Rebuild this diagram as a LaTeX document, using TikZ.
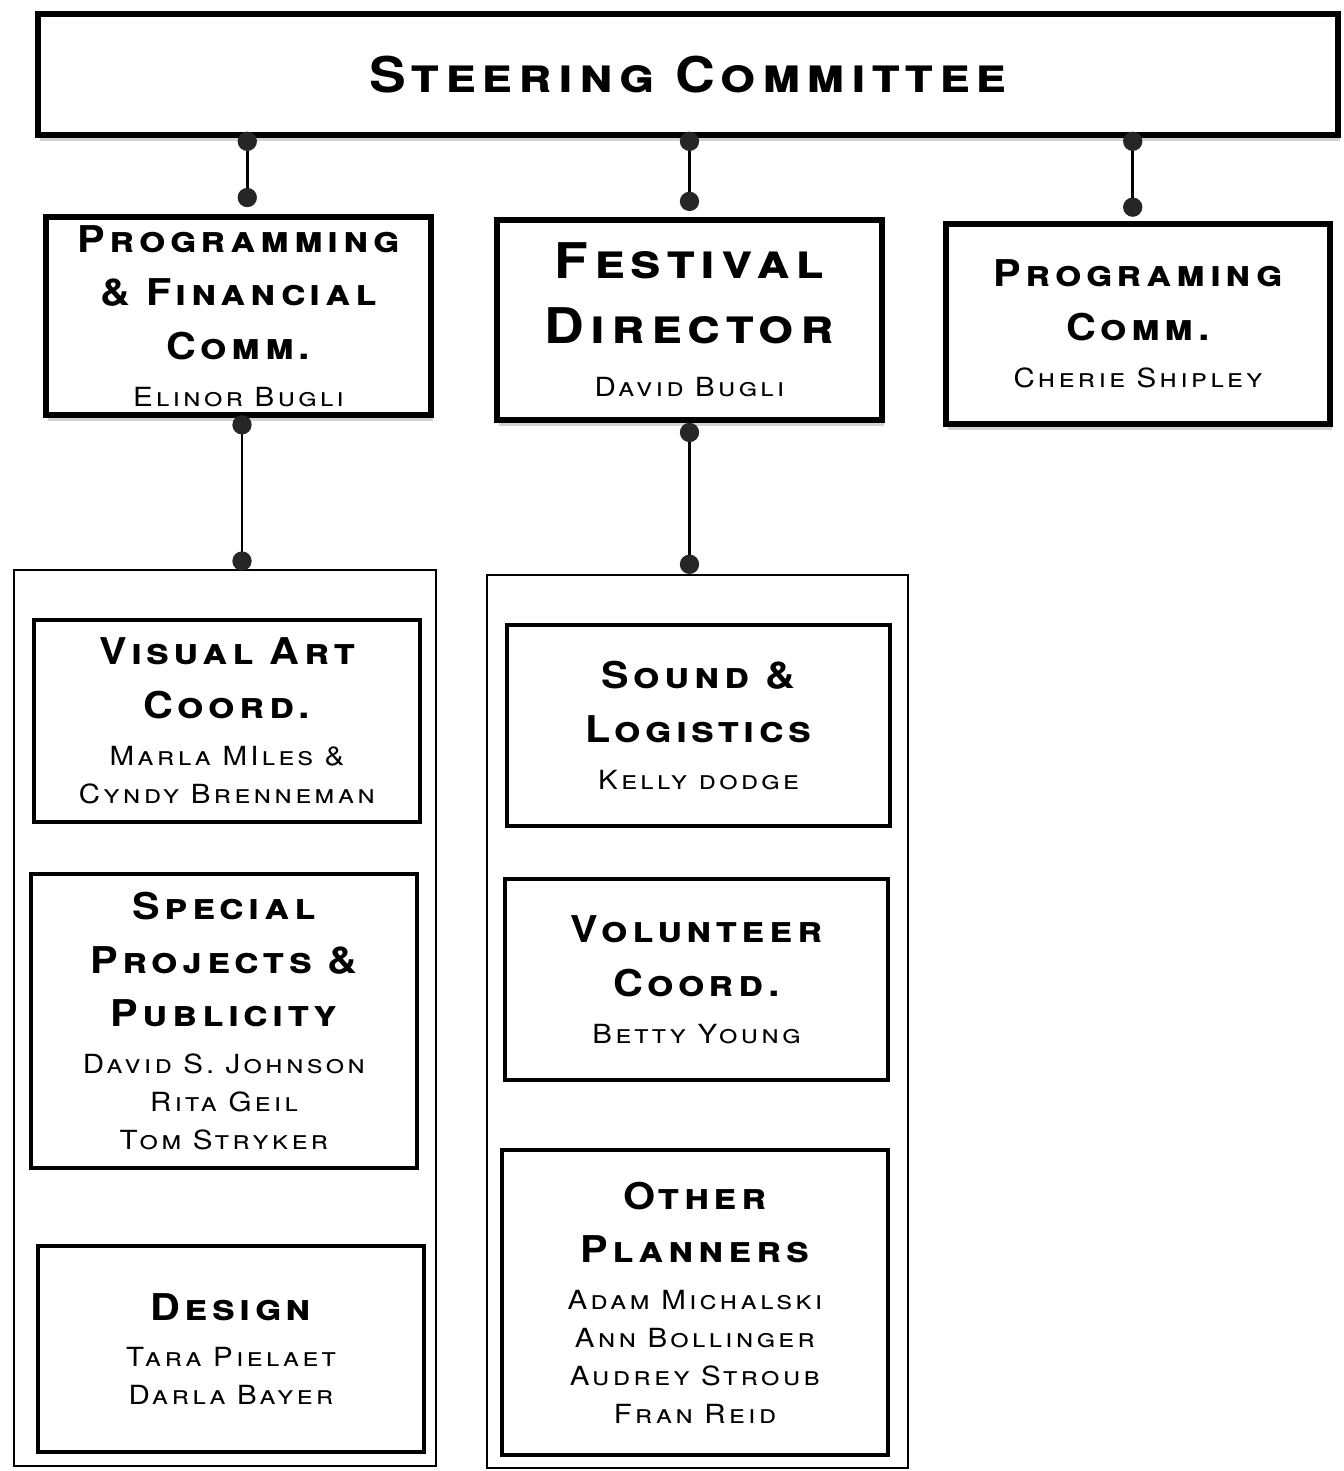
\documentclass[tikz,border=0pt]{standalone}
\usepackage{fontspec}
\newfontfamily\cpfont{TeX Gyre Heros}[Letters=SmallCaps,LetterSpace=12,FakeStretch=1.12]
\usetikzlibrary{positioning,shadows}
\newcommand\bigtxt{\cpfont\bfseries\fontsize{28}{37}\selectfont}
\newcommand\ttltxt{\cpfont\bfseries\fontsize{21}{30.6}\selectfont}
\newcommand\nametxt{\cpfont\mdseries\fontsize{15}{21.5}\selectfont}
% connector with a dot at each end
\newcommand\linkdots[2]{\draw[link] (#1) -- (#2);
  \fill[dot] (#1) circle (5.5pt) (#2) circle (5.5pt);}
\tikzset{topbox/.style={draw, line width=3.2pt, fill=white, inner sep=0pt,
           align=center, font=\ttltxt,
           drop shadow={opacity=.35, shadow xshift=1pt, shadow yshift=-3.5pt}},
         unitbox/.style={draw, line width=2.6pt, fill=white, inner sep=0pt,
           align=center, font=\ttltxt},
         groupbox/.style={draw, line width=1.3pt},
         link/.style={line width=1.6pt},
         dot/.style={fill=black!85}}
\begin{document}
\begin{tikzpicture}[x=0.02cm,y=-0.02cm]
  \useasboundingbox (0,0) rectangle (1343,1471);
  % outer groups
  \node[groupbox, minimum width=8.44cm, minimum height=17.92cm] (grpA) at (225,1018) {};
  \node[groupbox, minimum width=8.42cm, minimum height=17.86cm] (grpB) at (697.5,1021.5) {};
  % top level
  \node[topbox, minimum width=26cm, minimum height=2.42cm, font=\bigtxt] (steer) at (688,74.5)
    {Steering Committee};
  \node[topbox, minimum width=7.7cm, minimum height=3.96cm] (pf) at (238.5,316)
    {Programming\\ \& Financial\\ Comm.\\[-4pt] {\nametxt Elinor Bugli}};
  \node[topbox, minimum width=7.7cm, minimum height=4cm, font=\bigtxt] (fd) at (689.5,320)
    {Festival\\ Director\\[-7pt] {\nametxt David Bugli}};
  \node[topbox, minimum width=7.68cm, minimum height=4cm] (pc) at (1138,324)
    {Programing\\ Comm.\\[-4pt] {\nametxt Cherie Shipley}};
  % units
  \node[unitbox, minimum width=7.72cm, minimum height=4.04cm] (va) at (227,721)
    {Visual Art\\ Coord.\\[-4pt] {\nametxt Marla MIles \&}\\[-9pt] {\nametxt Cyndy Brenneman}};
  \node[unitbox, minimum width=7.72cm, minimum height=5.88cm] (sp) at (224,1021)
    {Special\\ Projects \&\\ Publicity\\[-4pt] {\nametxt David S. Johnson}\\[-9pt]
     {\nametxt Rita Geil}\\[-9pt] {\nametxt Tom Stryker}};
  \node[unitbox, minimum width=7.72cm, minimum height=4.12cm] (ds) at (231,1349)
    {Design\\[-4pt] {\nametxt Tara Pielaet}\\[-9pt] {\nametxt Darla Bayer}};
  \node[unitbox, minimum width=7.66cm, minimum height=4.02cm] (sl) at (698.5,725.5)
    {Sound \&\\ Logistics\\[-4pt] {\nametxt Kelly dodge}};
  \node[unitbox, minimum width=7.66cm, minimum height=4.02cm] (vc) at (696.5,979.5)
    {Volunteer\\ Coord.\\[-4pt] {\nametxt Betty Young}};
  \node[unitbox, minimum width=7.72cm, minimum height=6.1cm] (op) at (695,1302.5)
    {Other\\ Planners\\[-4pt] {\nametxt Adam Michalski}\\[-9pt] {\nametxt Ann Bollinger}\\[-9pt]
     {\nametxt Audrey Stroub}\\[-9pt] {\nametxt Fran Reid}};
  % connectors
  \linkdots{[xshift=5pt,yshift=-2pt]steer.south -| pf.north}{[xshift=5pt,yshift=9.5pt]pf.north}
  \linkdots{[yshift=-2pt]steer.south -| fd.north}{[yshift=9pt]fd.north}
  \linkdots{[xshift=-3pt,yshift=-2pt]steer.south -| pc.north}{[xshift=-3pt,yshift=8pt]pc.north}
  \linkdots{[xshift=2pt,yshift=-4pt]pf.south}{[xshift=2pt,yshift=4.5pt]pf.south |- grpA.north}
  \linkdots{[yshift=-5.5pt]fd.south}{[yshift=5.5pt]fd.south |- grpB.north}
\end{tikzpicture}
\end{document}
